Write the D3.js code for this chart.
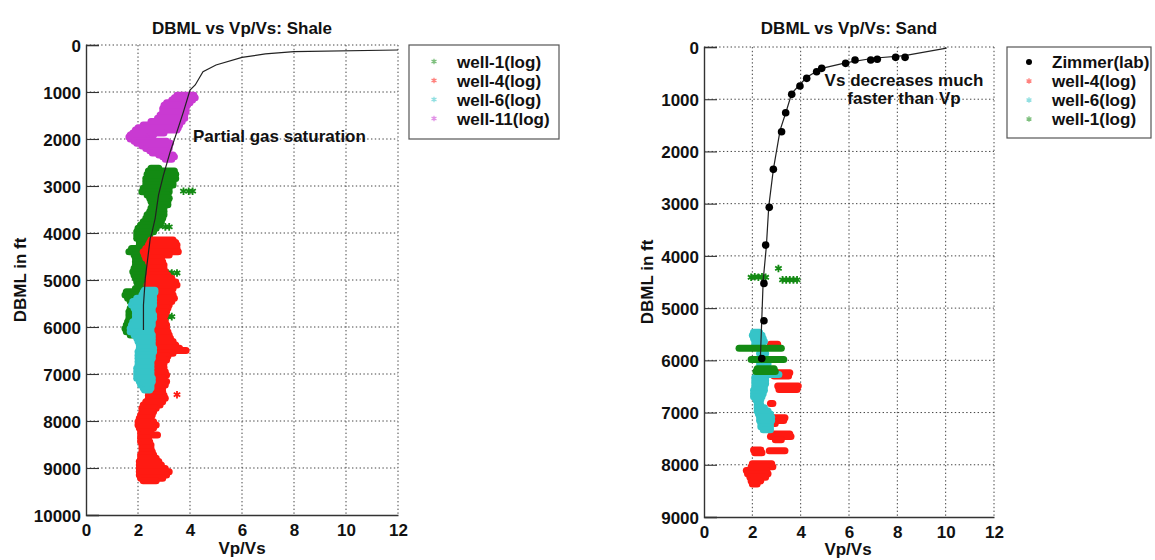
<!DOCTYPE html>
<html>
<head>
<meta charset="utf-8">
<script src="https://cdn.jsdelivr.net/npm/d3@7"></script>
<style>
  body { margin: 0; background: #fff; }
  svg { display: block; }
  text { font-family: "Liberation Sans", Arial, sans-serif; font-weight: bold; fill: #111; }
</style>
</head>
<body>
<svg id="fig" width="1155" height="560"></svg>
<script>
// ---------- axis ticks ----------
const vpvsTicks = [0, 2, 4, 6, 8, 10, 12];
const shaleDepthTicks = [0, 1000, 2000, 3000, 4000, 5000, 6000, 7000, 8000, 9000, 10000];
const sandDepthTicks = [0, 1000, 2000, 3000, 4000, 5000, 6000, 7000, 8000, 9000];

// ---------- shale: log readings, one row per depth sample [depth ft, min Vp/Vs, max Vp/Vs] ----------
const shaleWell1 = [
  [2620, 2.5, 2.8], [2680, 2.4, 3.4], [2750, 2.35, 3.45], [2840, 2.3, 3.45], [2910, 2.3, 3.35],
  [2980, 2.3, 3.35], [3050, 2.2, 3.2], [3120, 2.15, 3.2], [3190, 2.35, 3.15], [3260, 2.45, 3.2],
  [3330, 2.5, 3.15], [3400, 2.55, 3.15], [3470, 2.5, 3.0], [3540, 2.45, 3.0], [3610, 2.35, 3.0],
  [3685, 2.3, 2.95], [3760, 2.2, 2.9], [3830, 2.1, 2.85], [3900, 2.0, 2.7], [3972, 1.95, 2.6],
  [4040, 1.95, 2.45], [4113, 1.95, 2.4], [4180, 2.05, 2.4], [4255, 2.05, 2.4], [4330, 1.75, 2.35],
  [4397, 1.65, 2.3], [4470, 1.85, 2.3], [4539, 1.9, 2.3], [4610, 1.9, 2.3], [4681, 1.9, 2.3],
  [4750, 1.85, 2.3], [4823, 1.8, 2.3], [4900, 1.85, 2.3], [4965, 1.9, 2.3], [5040, 1.95, 2.3],
  [5106, 2.0, 2.3], [5180, 1.9, 2.3], [5248, 1.55, 2.3], [5320, 1.5, 2.2], [5390, 1.6, 2.1],
  [5460, 1.7, 2.05], [5532, 1.75, 2.0], [5600, 1.7, 2.0], [5674, 1.65, 2.0], [5745, 1.65, 1.95],
  [5816, 1.65, 1.9], [5890, 1.6, 1.9], [5957, 1.55, 1.9], [6030, 1.5, 1.85], [6099, 1.55, 1.85],
  [6170, 1.7, 1.85]
];
const shaleWell1Spots = [
  [3110, 3.75], [3110, 3.95], [3110, 4.1], [3870, 3.05], [3870, 3.2],
  [4850, 3.15], [4850, 3.3], [4850, 3.5], [5780, 3.15], [5780, 3.3]
];
const shaleWell4 = [
  [4150, 2.5, 3.35], [4200, 2.45, 3.45], [4255, 2.4, 3.5], [4330, 2.3, 3.5], [4397, 2.2, 3.55],
  [4470, 2.25, 3.2], [4539, 2.3, 2.9], [4610, 2.4, 2.95], [4681, 2.45, 3.0], [4750, 2.45, 3.0],
  [4823, 2.45, 3.05], [4900, 2.45, 3.15], [4965, 2.4, 3.3], [5040, 2.4, 3.45], [5106, 2.35, 3.5],
  [5180, 2.4, 3.35], [5248, 2.5, 3.3], [5320, 2.55, 3.35], [5390, 2.6, 3.4], [5460, 2.6, 3.3],
  [5532, 2.6, 3.2], [5600, 2.65, 3.15], [5674, 2.65, 3.1], [5745, 2.6, 3.05], [5816, 2.6, 3.0],
  [5890, 2.6, 3.05], [5957, 2.6, 3.1], [6030, 2.6, 3.1], [6099, 2.6, 3.15], [6170, 2.6, 3.2],
  [6241, 2.6, 3.25], [6310, 2.55, 3.35], [6383, 2.5, 3.45], [6450, 2.55, 3.6], [6500, 2.6, 3.85],
  [6560, 2.6, 3.35], [6620, 2.55, 3.15], [6700, 2.5, 3.1], [6780, 2.55, 3.0], [6860, 2.6, 3.0],
  [6950, 2.6, 3.05], [7020, 2.65, 3.1], [7092, 2.65, 3.0], [7160, 2.6, 3.1], [7234, 2.6, 3.05],
  [7300, 2.5, 2.95], [7376, 2.4, 2.95], [7450, 2.4, 3.0], [7518, 2.4, 3.05], [7590, 2.3, 2.95],
  [7660, 2.2, 2.85], [7730, 2.15, 2.7], [7801, 2.15, 2.6], [7870, 2.1, 2.55], [7943, 2.05, 2.5],
  [8015, 2.0, 2.6], [8085, 2.0, 2.7], [8150, 2.05, 2.6], [8227, 2.1, 2.5], [8300, 2.1, 2.75],
  [8369, 2.1, 2.4], [8440, 2.1, 2.45], [8511, 2.15, 2.5], [8580, 2.15, 2.5], [8652, 2.15, 2.55],
  [8720, 2.1, 2.6], [8794, 2.1, 2.7], [8860, 2.05, 2.8], [8936, 2.05, 2.9], [9010, 2.05, 3.05],
  [9078, 2.05, 3.2], [9150, 2.05, 3.1], [9220, 2.1, 2.95], [9270, 2.2, 2.7]
];
const shaleWell4Spots = [[7440, 3.5]];
const shaleWell6 = [
  [5220, 2.25, 2.65], [5260, 2.2, 2.65], [5320, 2.15, 2.6], [5390, 1.95, 2.6], [5460, 1.8, 2.6],
  [5532, 1.75, 2.6], [5600, 1.85, 2.55], [5674, 1.9, 2.55], [5745, 1.9, 2.6], [5816, 1.9, 2.6],
  [5890, 1.8, 2.55], [5957, 1.75, 2.55], [6030, 1.7, 2.5], [6099, 1.7, 2.5], [6170, 1.85, 2.55],
  [6241, 1.95, 2.55], [6310, 2.0, 2.55], [6383, 2.05, 2.55], [6450, 2.05, 2.6], [6525, 2.0, 2.6],
  [6600, 2.0, 2.55], [6667, 2.0, 2.55], [6740, 2.0, 2.5], [6809, 2.0, 2.5], [6880, 1.95, 2.5],
  [6950, 1.95, 2.5], [7020, 1.95, 2.5], [7092, 1.95, 2.55], [7160, 2.05, 2.55], [7234, 2.1, 2.5],
  [7300, 2.2, 2.5], [7340, 2.25, 2.45]
];
const shaleWell11 = [
  [1070, 3.5, 4.15], [1120, 3.4, 4.2], [1170, 3.3, 4.1], [1230, 3.1, 4.0], [1280, 3.0, 3.9],
  [1350, 2.95, 3.85], [1420, 2.95, 3.85], [1490, 2.85, 3.8], [1560, 2.75, 3.8], [1630, 2.5, 3.7],
  [1700, 2.2, 3.6], [1760, 2.0, 3.55], [1810, 1.9, 3.5], [1870, 1.8, 3.0], [1915, 1.7, 2.6],
  [1960, 1.65, 2.3], [2000, 1.7, 2.2], [2050, 1.85, 3.1], [2090, 1.95, 3.25], [2150, 2.15, 3.2],
  [2200, 2.3, 3.2], [2250, 2.45, 3.15], [2300, 2.55, 3.1], [2340, 2.8, 3.35], [2375, 2.95, 3.4],
  [2430, 3.05, 3.3]
];
// shale compaction trend
const shaleTrendVpVs = [12, 8, 6.9, 6, 5, 4.5, 4.2, 4.0, 3.75, 3.5, 3.24, 2.98, 2.79, 2.66, 2.53, 2.47, 2.28, 2.21, 2.21];
const shaleTrendDepth = [106, 142, 190, 262, 425, 568, 851, 960, 1418, 1844, 2270, 2766, 3191, 3688, 4007, 4113, 4965, 5532, 6064];

// ---------- sand ----------
const zimmerVpVs = [8.32, 7.93, 7.17, 6.9, 6.25, 5.86, 4.87, 4.66, 4.25, 3.97, 3.63, 3.38, 3.21, 2.87, 2.70, 2.55, 2.48, 2.48, 2.39];
const zimmerDepth = [198, 198, 236, 249, 249, 313, 409, 473, 600, 747, 907, 1258, 1622, 2343, 3071, 3793, 4527, 5243, 5964];
const zimmerFitVpVs = [10.04, 8.3, 7.0, 5.9, 4.87, 4.25, 3.63, 3.42, 3.15, 2.87, 2.68, 2.58, 2.45, 2.39, 2.33];
const zimmerFitDepth = [20, 165, 215, 300, 408, 580, 887, 1207, 1590, 2343, 3052, 3818, 4464, 5230, 5990];

const sandWell4 = [
  [5690, 2.75, 3.05],
  [6240, 3.0, 3.55], [6300, 2.9, 3.5],
  [6490, 3.05, 3.9], [6560, 3.1, 3.85],
  [6826, 2.75, 2.85],
  [7100, 2.85, 3.35], [7150, 2.8, 3.3], [7210, 2.8, 2.95],
  [7410, 2.8, 3.55], [7460, 2.75, 3.6], [7520, 2.95, 3.2],
  [7715, 2.05, 2.35], [7730, 2.7, 3.35], [7770, 2.1, 2.4],
  [7980, 2.0, 2.8], [8040, 1.95, 2.85], [8110, 1.75, 2.6], [8170, 1.8, 2.65],
  [8240, 1.9, 2.55], [8310, 1.95, 2.35], [8370, 2.0, 2.2]
];
const sandWell6 = [
  [5460, 2.05, 2.3], [5520, 2.0, 2.4], [5580, 2.05, 2.45], [5640, 2.1, 2.5], [5700, 2.1, 2.4],
  [5870, 2.3, 2.55], [6070, 2.3, 2.65], [6270, 2.5, 3.1], [6330, 2.1, 2.55], [6390, 2.1, 2.55],
  [6450, 2.1, 2.55], [6510, 2.1, 2.5], [6571, 2.05, 2.5], [6640, 2.05, 2.45], [6699, 2.05, 2.4],
  [6760, 2.15, 2.35], [6850, 2.2, 2.35], [6910, 2.2, 2.5], [6970, 2.2, 2.65], [7030, 2.25, 2.75],
  [7090, 2.3, 2.8], [7150, 2.3, 2.8], [7210, 2.35, 2.75], [7270, 2.35, 2.75], [7330, 2.45, 2.75]
];
const sandWell1 = [
  [5770, 1.45, 3.2],
  [5985, 1.95, 3.3],
  [6160, 2.2, 2.9], [6215, 2.15, 2.95]
];
const sandWell1Spots = [
  [4410, 1.95], [4400, 2.1], [4410, 2.25], [4400, 2.4], [4410, 2.55],
  [4460, 3.25], [4460, 3.4], [4460, 3.55], [4460, 3.7], [4460, 3.85], [4240, 3.08]
];

// ---------- series colours ----------
const GREEN = "#138a13", RED = "#ff1a12", CYAN = "#36c4c8", MAGENTA = "#c93ad2";

const svg = d3.select("#fig");
svg.append("rect").attr("width", 1155).attr("height", 560).attr("fill", "#fff");
const star = d3.symbol().type(d3.symbolAsterisk || d3.symbolCross);

function panel(opt) {
  const x = d3.scaleLinear().domain([0, 12]).range([opt.left, opt.right]);
  const y = d3.scaleLinear().domain([0, opt.depthMax]).range([opt.top, opt.bottom]);
  const g = svg.append("g");
  const clipId = "clip-" + opt.id;
  g.append("clipPath").attr("id", clipId).append("rect")
    .attr("x", opt.left).attr("y", opt.top)
    .attr("width", opt.right - opt.left).attr("height", opt.bottom - opt.top);

  // dotted grid
  const grid = g.append("g").attr("stroke", "#444").attr("stroke-width", 1)
    .attr("stroke-dasharray", "1.4,2.4").attr("fill", "none");
  grid.selectAll("line.v").data(vpvsTicks.filter(t => t > 0)).join("line")
    .attr("x1", d => x(d)).attr("x2", d => x(d)).attr("y1", opt.top).attr("y2", opt.bottom);
  grid.selectAll("line.h").data(opt.depthTicks.filter(t => t < opt.depthMax)).join("line")
    .attr("y1", d => y(d)).attr("y2", d => y(d)).attr("x1", opt.left).attr("x2", opt.right);

  // axes (left and bottom only, ticks pointing inward)
  const yAxis = d3.axisLeft(y).tickValues(opt.depthTicks).tickSize(-13).tickPadding(5).tickFormat(d3.format("d"));
  const xAxis = d3.axisBottom(x).tickValues(vpvsTicks).tickSize(0).tickPadding(7).tickFormat(d3.format("d"));
  const ya = g.append("g").attr("transform", `translate(${opt.left},0)`).call(yAxis);
  const xa = g.append("g").attr("transform", `translate(0,${opt.bottom})`).call(xAxis);
  [ya, xa].forEach(a => {
    a.select(".domain").attr("stroke", "#333").attr("stroke-width", 1.4);
    a.selectAll(".tick line").attr("stroke", "#333").attr("stroke-width", 1.1);
    a.selectAll(".tick text").attr("font-size", 17).attr("font-weight", "bold")
      .attr("font-family", '"Liberation Sans", Arial, sans-serif').attr("fill", "#111");
  });
  ya.selectAll(".tick text").attr("dy", "0.36em");
  xa.selectAll(".tick text").attr("dy", "0.8em");

  const data = g.append("g").attr("clip-path", `url(#${clipId})`);
  return { x, y, g, data };
}

// each log row is a streak of overlapping markers from min to max Vp/Vs at that depth
function drawRows(p, rows, color) {
  p.data.append("g").attr("stroke", color).attr("stroke-width", 7).attr("stroke-linecap", "round")
    .selectAll("line").data(rows).join("line")
    .attr("x1", d => p.x(d[1])).attr("x2", d => p.x(d[2]))
    .attr("y1", d => p.y(d[0])).attr("y2", d => p.y(d[0]));
}
function drawSpots(p, spots, color) {
  p.data.append("g").attr("stroke", color).attr("stroke-width", 1.8).attr("fill", "none")
    .selectAll("path").data(spots).join("path")
    .attr("d", star.size(40)())
    .attr("transform", d => `translate(${p.x(d[1])},${p.y(d[0])})`);
}
function drawTrend(p, vals, depths) {
  const pts = vals.map((v, i) => [v, depths[i]]);
  p.data.append("path").datum(pts)
    .attr("d", d3.line().x(d => p.x(d[0])).y(d => p.y(d[1])))
    .attr("fill", "none").attr("stroke", "#222").attr("stroke-width", 1.2);
}
function legend(entries, box, markerX, textX, rowY) {
  const lg = svg.append("g");
  lg.append("rect").attr("x", box[0]).attr("y", box[1]).attr("width", box[2]).attr("height", box[3])
    .attr("fill", "#fff").attr("stroke", "#555").attr("stroke-width", 1.2);
  entries.forEach((e, i) => {
    const cy = rowY + i * 19;
    if (e.dot) {
      lg.append("circle").attr("cx", markerX).attr("cy", cy).attr("r", 3).attr("fill", e.color);
    } else {
      lg.append("path").attr("d", star.size(22)()).attr("transform", `translate(${markerX},${cy})`)
        .attr("fill", "none").attr("stroke", e.color).attr("stroke-width", 1.3).attr("opacity", 0.55);
    }
    lg.append("text").attr("x", textX).attr("y", cy + 6).attr("font-size", 17).text(e.label);
  });
}

// ================= Shale =================
const shale = panel({ id: "shale", left: 86, right: 398, top: 45, bottom: 515, depthMax: 10000, depthTicks: shaleDepthTicks });
drawRows(shale, shaleWell1, GREEN);
drawSpots(shale, shaleWell1Spots, GREEN);
drawRows(shale, shaleWell4, RED);
drawSpots(shale, shaleWell4Spots, RED);
drawRows(shale, shaleWell6, CYAN);
drawRows(shale, shaleWell11, MAGENTA);
drawTrend(shale, shaleTrendVpVs, shaleTrendDepth);

svg.append("text").attr("x", 242).attr("y", 34).attr("text-anchor", "middle").attr("font-size", 17).text("DBML vs Vp/Vs: Shale");
svg.append("text").attr("x", 242).attr("y", 554).attr("text-anchor", "middle").attr("font-size", 17).text("Vp/Vs");
svg.append("text").attr("transform", "translate(26,280) rotate(-90)").attr("text-anchor", "middle").attr("font-size", 17).text("DBML in ft");
svg.append("text").attr("x", 193).attr("y", 142).attr("font-size", 17).text("Partial gas saturation");

legend([
  { label: "well-1(log)", color: GREEN },
  { label: "well-4(log)", color: RED },
  { label: "well-6(log)", color: CYAN },
  { label: "well-11(log)", color: MAGENTA }
], [409, 45, 150, 94], 434, 457, 61.5);

// ================= Sand =================
const sand = panel({ id: "sand", left: 704, right: 994, top: 47, bottom: 517, depthMax: 9000, depthTicks: sandDepthTicks });
drawRows(sand, sandWell4, RED);
drawRows(sand, sandWell6, CYAN);
drawRows(sand, sandWell1, GREEN);
drawSpots(sand, sandWell1Spots, GREEN);
drawTrend(sand, zimmerFitVpVs, zimmerFitDepth);
sand.data.append("g").selectAll("circle").data(zimmerVpVs).join("circle")
  .attr("cx", d => sand.x(d)).attr("cy", (d, i) => sand.y(zimmerDepth[i])).attr("r", 3.8).attr("fill", "#000");

svg.append("text").attr("x", 849).attr("y", 34).attr("text-anchor", "middle").attr("font-size", 17).text("DBML vs Vp/Vs: Sand");
svg.append("text").attr("x", 848).attr("y", 555).attr("text-anchor", "middle").attr("font-size", 17).text("Vp/Vs");
svg.append("text").attr("transform", "translate(653,282) rotate(-90)").attr("text-anchor", "middle").attr("font-size", 17).text("DBML in ft");
svg.append("text").attr("x", 904).attr("y", 86).attr("text-anchor", "middle").attr("font-size", 17).text("Vs decreases much");
svg.append("text").attr("x", 904).attr("y", 104).attr("text-anchor", "middle").attr("font-size", 17).text("faster than Vp");

legend([
  { label: "Zimmer(lab)", color: "#000", dot: true },
  { label: "well-4(log)", color: RED },
  { label: "well-6(log)", color: CYAN },
  { label: "well-1(log)", color: GREEN }
], [1007, 47, 144, 91], 1029, 1052, 62);
</script>
</body>
</html>
